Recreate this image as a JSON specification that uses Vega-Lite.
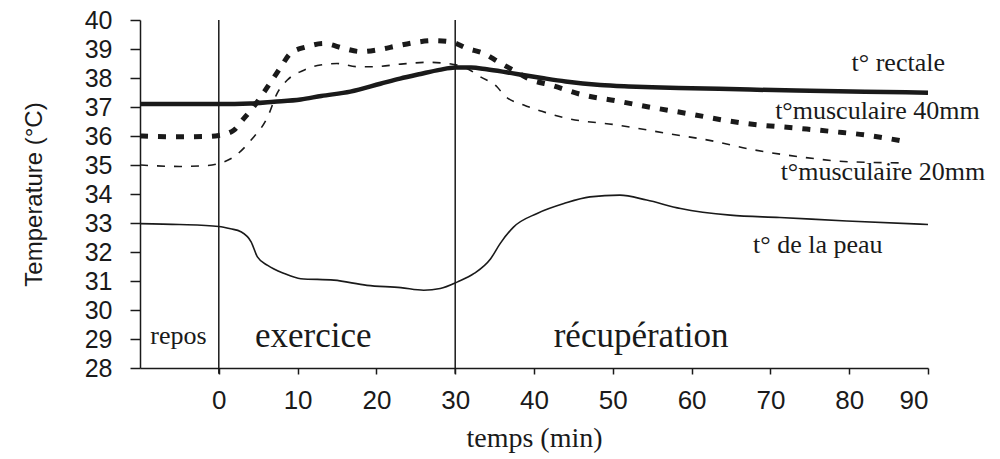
{
  "$schema": "https://vega.github.io/schema/vega-lite/v6.json",
  "width": 788,
  "height": 348,
  "autosize": "none",
  "padding": {"left": 140, "top": 20, "right": 72, "bottom": 91},
  "background": "white",
  "config": {"view": {"stroke": null}, "axis": {"labelOverlap": false, "labelSeparation": 0}},
  "datasets": {
    "curves": [
      {"series": "rectale", "t": -10, "temp": 37.1},
      {"series": "rectale", "t": -5, "temp": 37.1},
      {"series": "rectale", "t": 0, "temp": 37.1},
      {"series": "rectale", "t": 4, "temp": 37.12},
      {"series": "rectale", "t": 7, "temp": 37.18},
      {"series": "rectale", "t": 10.4, "temp": 37.26},
      {"series": "rectale", "t": 13, "temp": 37.38},
      {"series": "rectale", "t": 16.7, "temp": 37.53},
      {"series": "rectale", "t": 20.5, "temp": 37.8},
      {"series": "rectale", "t": 23, "temp": 37.98},
      {"series": "rectale", "t": 25.6, "temp": 38.14},
      {"series": "rectale", "t": 28, "temp": 38.28},
      {"series": "rectale", "t": 30, "temp": 38.36},
      {"series": "rectale", "t": 32, "temp": 38.36},
      {"series": "rectale", "t": 34, "temp": 38.3},
      {"series": "rectale", "t": 36, "temp": 38.22},
      {"series": "rectale", "t": 38, "temp": 38.13},
      {"series": "rectale", "t": 41, "temp": 38.0},
      {"series": "rectale", "t": 44, "temp": 37.88},
      {"series": "rectale", "t": 48.4, "temp": 37.76},
      {"series": "rectale", "t": 52, "temp": 37.71},
      {"series": "rectale", "t": 55, "temp": 37.68},
      {"series": "rectale", "t": 60, "temp": 37.65},
      {"series": "rectale", "t": 67.4, "temp": 37.6},
      {"series": "rectale", "t": 75, "temp": 37.56},
      {"series": "rectale", "t": 82, "temp": 37.53},
      {"series": "rectale", "t": 90, "temp": 37.49},

      {"series": "m40", "t": -10, "temp": 36.0},
      {"series": "m40", "t": -5, "temp": 35.97},
      {"series": "m40", "t": -2, "temp": 35.98},
      {"series": "m40", "t": 0, "temp": 36.02},
      {"series": "m40", "t": 1.9, "temp": 36.2},
      {"series": "m40", "t": 3, "temp": 36.55},
      {"series": "m40", "t": 4.4, "temp": 37.0},
      {"series": "m40", "t": 6.2, "temp": 37.7},
      {"series": "m40", "t": 7.9, "temp": 38.39},
      {"series": "m40", "t": 9.1, "temp": 38.85},
      {"series": "m40", "t": 11.2, "temp": 39.08},
      {"series": "m40", "t": 13.3, "temp": 39.19},
      {"series": "m40", "t": 15.9, "temp": 39.02},
      {"series": "m40", "t": 18, "temp": 38.91},
      {"series": "m40", "t": 20.5, "temp": 38.99},
      {"series": "m40", "t": 22.5, "temp": 39.1},
      {"series": "m40", "t": 24.8, "temp": 39.22},
      {"series": "m40", "t": 27.3, "temp": 39.29},
      {"series": "m40", "t": 29.4, "temp": 39.25},
      {"series": "m40", "t": 31.5, "temp": 39.02},
      {"series": "m40", "t": 33.6, "temp": 38.85},
      {"series": "m40", "t": 35.5, "temp": 38.55},
      {"series": "m40", "t": 37.5, "temp": 38.25},
      {"series": "m40", "t": 39.5, "temp": 37.95},
      {"series": "m40", "t": 42.1, "temp": 37.76},
      {"series": "m40", "t": 46.3, "temp": 37.41},
      {"series": "m40", "t": 50.5, "temp": 37.21},
      {"series": "m40", "t": 54.8, "temp": 36.99},
      {"series": "m40", "t": 59.8, "temp": 36.76},
      {"series": "m40", "t": 64, "temp": 36.55},
      {"series": "m40", "t": 67, "temp": 36.43},
      {"series": "m40", "t": 73.8, "temp": 36.26},
      {"series": "m40", "t": 78, "temp": 36.15},
      {"series": "m40", "t": 82.2, "temp": 36.03},
      {"series": "m40", "t": 87.3, "temp": 35.8},

      {"series": "m20", "t": -10, "temp": 35.0},
      {"series": "m20", "t": -5, "temp": 34.95},
      {"series": "m20", "t": -2, "temp": 34.97},
      {"series": "m20", "t": 0, "temp": 35.05},
      {"series": "m20", "t": 1.9, "temp": 35.28},
      {"series": "m20", "t": 4.1, "temp": 35.86},
      {"series": "m20", "t": 6.2, "temp": 36.66},
      {"series": "m20", "t": 7.4, "temp": 37.47},
      {"series": "m20", "t": 8.7, "temp": 37.93},
      {"series": "m20", "t": 10.8, "temp": 38.27},
      {"series": "m20", "t": 12.9, "temp": 38.45},
      {"series": "m20", "t": 15, "temp": 38.5},
      {"series": "m20", "t": 17.6, "temp": 38.39},
      {"series": "m20", "t": 19.7, "temp": 38.39},
      {"series": "m20", "t": 23.1, "temp": 38.48},
      {"series": "m20", "t": 26.5, "temp": 38.54},
      {"series": "m20", "t": 29, "temp": 38.5},
      {"series": "m20", "t": 31.5, "temp": 38.33},
      {"series": "m20", "t": 33.2, "temp": 38.04},
      {"series": "m20", "t": 35.3, "temp": 37.7},
      {"series": "m20", "t": 36.2, "temp": 37.41},
      {"series": "m20", "t": 38.7, "temp": 37.07},
      {"series": "m20", "t": 41, "temp": 36.85},
      {"series": "m20", "t": 44.2, "temp": 36.61},
      {"series": "m20", "t": 50.5, "temp": 36.38},
      {"series": "m20", "t": 56.9, "temp": 36.09},
      {"series": "m20", "t": 63.2, "temp": 35.8},
      {"series": "m20", "t": 67, "temp": 35.57},
      {"series": "m20", "t": 73.8, "temp": 35.28},
      {"series": "m20", "t": 80.1, "temp": 35.11},
      {"series": "m20", "t": 87.3, "temp": 35.07},

      {"series": "peau", "t": -10, "temp": 32.98},
      {"series": "peau", "t": -5, "temp": 32.95},
      {"series": "peau", "t": 0, "temp": 32.88},
      {"series": "peau", "t": 1.5, "temp": 32.8},
      {"series": "peau", "t": 2.8, "temp": 32.7},
      {"series": "peau", "t": 4.1, "temp": 32.35},
      {"series": "peau", "t": 4.9, "temp": 31.83},
      {"series": "peau", "t": 6.2, "temp": 31.54},
      {"series": "peau", "t": 8.3, "temp": 31.26},
      {"series": "peau", "t": 10.4, "temp": 31.08},
      {"series": "peau", "t": 14.6, "temp": 31.03},
      {"series": "peau", "t": 18.8, "temp": 30.85},
      {"series": "peau", "t": 23.1, "temp": 30.77},
      {"series": "peau", "t": 26, "temp": 30.68},
      {"series": "peau", "t": 28.1, "temp": 30.74},
      {"series": "peau", "t": 30.3, "temp": 30.97},
      {"series": "peau", "t": 32.4, "temp": 31.26},
      {"series": "peau", "t": 34.5, "temp": 31.77},
      {"series": "peau", "t": 35.7, "temp": 32.29},
      {"series": "peau", "t": 37.4, "temp": 32.86},
      {"series": "peau", "t": 40.4, "temp": 33.33},
      {"series": "peau", "t": 43.8, "temp": 33.67},
      {"series": "peau", "t": 47.1, "temp": 33.9},
      {"series": "peau", "t": 50.9, "temp": 33.96},
      {"series": "peau", "t": 54.3, "temp": 33.79},
      {"series": "peau", "t": 58.6, "temp": 33.5},
      {"series": "peau", "t": 64.9, "temp": 33.27},
      {"series": "peau", "t": 71.2, "temp": 33.19},
      {"series": "peau", "t": 79.7, "temp": 33.07},
      {"series": "peau", "t": 90, "temp": 32.95}
    ],
    "phases": [{"t": 0}, {"t": 30}],
    "serieslabels": [
      {"t": 80.3, "temp": 38.24, "label": "t° rectale"},
      {"t": 70.6, "temp": 36.58, "label": "t°musculaire 40mm"},
      {"t": 71.3, "temp": 34.48, "label": "t°musculaire 20mm"},
      {"t": 67.8, "temp": 31.97, "label": "t° de la peau"}
    ],
    "small": [{"t": -8.7, "temp": 28.82, "label": "repos"}],
    "big": [
      {"t": 4.6, "temp": 28.72, "label": "exercice"},
      {"t": 42.5, "temp": 28.72, "label": "récupération"}
    ]
  },
  "layer": [
    {
      "data": {"name": "curves"},
      "transform": [{"filter": "datum.series === 'rectale'"}],
      "mark": {"type": "line", "interpolate": "monotone", "color": "#1a1a1a", "strokeWidth": 4.5},
      "encoding": {
        "x": {"field": "t", "type": "quantitative", "scale": {"domain": [-10, 90], "nice": false, "zero": false},
          "axis": {
            "values": [0, 10, 20, 30, 40, 50, 60, 70, 80, 90],
            "grid": false,
            "labelOverlap": false,
            "domainColor": "#1a1a1a", "domainWidth": 1.5,
            "tickColor": "#1a1a1a", "tickWidth": 1.5, "tickSize": 6,
            "labelFont": "Liberation Sans", "labelFontSize": 26, "labelColor": "#1a1a1a", "labelPadding": 13,
            "title": "temps (min)", "titleFont": "Liberation Serif", "titleFontSize": 28, "titleFontWeight": "normal", "titleColor": "#1a1a1a", "titlePadding": 11
          }},
        "y": {"field": "temp", "type": "quantitative", "scale": {"domain": [28, 40], "nice": false, "zero": false},
          "axis": {
            "values": [28, 29, 30, 31, 32, 33, 34, 35, 36, 37, 38, 39, 40],
            "tickCount": 13,
            "grid": false,
            "labelOverlap": false,
            "labelSeparation": 0,
            "domainColor": "#1a1a1a", "domainWidth": 1.5,
            "tickColor": "#1a1a1a", "tickWidth": 1.5, "tickSize": 10,
            "labelFont": "Liberation Sans", "labelFontSize": 25, "labelColor": "#1a1a1a", "labelPadding": 18,
            "title": "Temperature (°C)", "titleFont": "Liberation Sans", "titleFontSize": 24, "titleFontWeight": "normal", "titleColor": "#1a1a1a", "titlePadding": 38
          }}
      }
    },
    {
      "data": {"name": "phases"},
      "mark": {"type": "rule", "color": "#1a1a1a", "strokeWidth": 1.5},
      "encoding": {
        "x": {"field": "t", "type": "quantitative"},
        "y": {"datum": 40, "type": "quantitative"},
        "y2": {"datum": 27.8}
      }
    },
    {
      "data": {"name": "curves"},
      "transform": [{"filter": "datum.series === 'peau'"}],
      "mark": {"type": "line", "interpolate": "monotone", "color": "#1a1a1a", "strokeWidth": 1.6},
      "encoding": {"x": {"field": "t", "type": "quantitative"}, "y": {"field": "temp", "type": "quantitative"}}
    },
    {
      "data": {"name": "curves"},
      "transform": [{"filter": "datum.series === 'm20'"}],
      "mark": {"type": "line", "interpolate": "monotone", "color": "#1a1a1a", "strokeWidth": 1.6, "strokeDash": [8, 9]},
      "encoding": {"x": {"field": "t", "type": "quantitative"}, "y": {"field": "temp", "type": "quantitative"}}
    },
    {
      "data": {"name": "curves"},
      "transform": [{"filter": "datum.series === 'm40'"}],
      "mark": {"type": "line", "interpolate": "monotone", "color": "#1a1a1a", "strokeWidth": 5, "strokeDash": [8, 10]},
      "encoding": {"x": {"field": "t", "type": "quantitative"}, "y": {"field": "temp", "type": "quantitative"}}
    },
    {
      "data": {"name": "serieslabels"},
      "mark": {"type": "text", "font": "Liberation Serif", "fontSize": 26, "align": "left", "baseline": "alphabetic", "color": "#1a1a1a"},
      "encoding": {"x": {"field": "t", "type": "quantitative"}, "y": {"field": "temp", "type": "quantitative"}, "text": {"field": "label"}}
    },
    {
      "data": {"name": "small"},
      "mark": {"type": "text", "font": "Liberation Serif", "fontSize": 26, "align": "left", "baseline": "alphabetic", "color": "#1a1a1a"},
      "encoding": {"x": {"field": "t", "type": "quantitative"}, "y": {"field": "temp", "type": "quantitative"}, "text": {"field": "label"}}
    },
    {
      "data": {"name": "big"},
      "mark": {"type": "text", "font": "Liberation Serif", "fontSize": 35, "align": "left", "baseline": "alphabetic", "color": "#1a1a1a"},
      "encoding": {"x": {"field": "t", "type": "quantitative"}, "y": {"field": "temp", "type": "quantitative"}, "text": {"field": "label"}}
    }
  ]
}
